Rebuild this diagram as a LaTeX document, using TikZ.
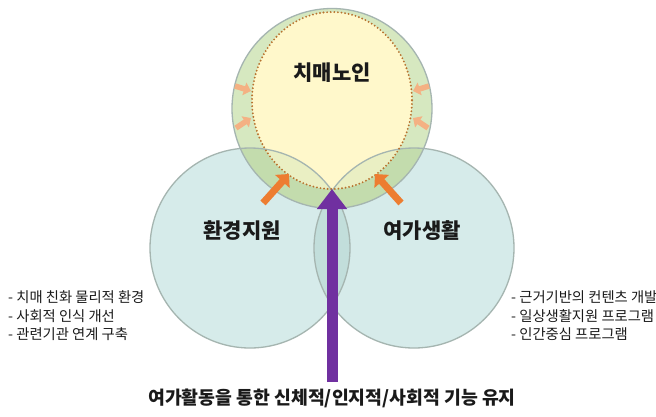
\documentclass[tikz,border=0pt]{standalone}
\usepackage{fontspec}
\newfontfamily\kr{Noto Sans CJK KR}
\usetikzlibrary{arrows.meta}
\definecolor{cyanA}{HTML}{D6EBEA}
\definecolor{cyanB}{HTML}{C2DEDB}
\definecolor{greenA}{HTML}{D6E8C0}
\definecolor{greenB}{HTML}{C3DCAD}
\definecolor{yelA}{HTML}{FFF8CB}
\definecolor{yelB}{HTML}{EAEFC3}
\definecolor{strokeC}{HTML}{A5B5B0}
\definecolor{dotC}{HTML}{B8732F}
\definecolor{orangeA}{HTML}{ED7D31}
\definecolor{peachA}{HTML}{F4B183}
\definecolor{purpleA}{HTML}{7030A0}
\definecolor{textC}{HTML}{1A1A1A}
\tikzset{
  circline/.style={draw=strokeC, line width=1.3},
  dotline/.style={draw=dotC, line width=2.1, line cap=round, dash pattern=on 0pt off 3.6pt},
  bigarrow/.style={draw=orangeA, line width=7, -{Triangle[length=10pt,width=19pt]}},
  smallarrow/.style={draw=peachA, line width=5.5, -{Triangle[length=7pt,width=13pt]}},
  purplearrow/.style={draw=purpleA, line width=11, -{Triangle[length=20pt,width=29pt]}},
  title/.style={font=\kr\bfseries\fontsize{21}{25}\selectfont, text=textC},
  listtext/.style={font=\kr\fontsize{14.3}{18.5}\selectfont, text=textC, align=left, anchor=west, inner sep=0},
  bottomtext/.style={font=\kr\bfseries\fontsize{18.3}{22}\selectfont, text=textC}
}
\begin{document}
\begin{tikzpicture}[x=1pt,y=-1pt]
\useasboundingbox (0,0) rectangle (656,416);
\fill[white] (0,0) rectangle (656,416);
\coordinate (L) at (250,248);
\coordinate (R) at (414,248);
\coordinate (T) at (332,108.5);
\coordinate (E) at (332,100.5);
% lower circles
\fill[cyanA] (L) circle[radius=100];
\fill[cyanA] (R) circle[radius=100];
\begin{scope}
  \clip (L) circle[radius=100];
  \fill[cyanB] (R) circle[radius=100];
\end{scope}
% top circle
\fill[greenA] (T) circle[radius=100];
\begin{scope}
  \clip (T) circle[radius=100];
  \fill[greenB] (L) circle[radius=100];
  \fill[greenB] (R) circle[radius=100];
\end{scope}
\fill[yelA] (E) ellipse[x radius=80, y radius=88.5];
\begin{scope}
  \clip (E) ellipse[x radius=80, y radius=88.5];
  \fill[yelB] (L) circle[radius=100];
  \fill[yelB] (R) circle[radius=100];
\end{scope}
% outlines
\draw[circline] (L) circle[radius=100];
\draw[circline] (R) circle[radius=100];
\draw[circline] (T) circle[radius=100];
\draw[dotline] (E) ellipse[x radius=80, y radius=88.5];
% small peach arrows
\coordinate (sa1) at (235,86);  \coordinate (sb1) at (251,91);
\coordinate (sa2) at (236,128); \coordinate (sb2) at (251,118);
\coordinate (sa3) at (429,86);  \coordinate (sb3) at (413,91);
\coordinate (sa4) at (428,128); \coordinate (sb4) at (413,118);
\draw[smallarrow] (sa1) -- (sb1);
\draw[smallarrow] (sa2) -- (sb2);
\draw[smallarrow] (sa3) -- (sb3);
\draw[smallarrow] (sa4) -- (sb4);
% big orange arrows
\coordinate (ba1) at (263,203); \coordinate (bb1) at (289,174);
\coordinate (ba2) at (401,203); \coordinate (bb2) at (375,174);
\draw[bigarrow] (ba1) -- (bb1);
\draw[bigarrow] (ba2) -- (bb2);
% purple arrow
\coordinate (pa) at (332,382);
\coordinate (pb) at (332,189);
\draw[purplearrow] (pa) -- (pb);
% titles
\node[title] (t1) at (332,73) {치매노인};
\node[title] (t2) at (242,231) {환경지원};
\node[title] (t3) at (422,231) {여가생활};
% lists
\node[listtext] (l1) at (8,316) {- 치매 친화 물리적 환경\\- 사회적 인식 개선\\- 관련기관 연계 구축};
\node[listtext] (l2) at (511,316) {- 근거기반의 컨텐츠 개발\\- 일상생활지원 프로그램\\- 인간중심 프로그램};
% bottom
\node[bottomtext] (bt) at (332,398) {여가활동을 통한 신체적/인지적/사회적 기능 유지};
\end{tikzpicture}
\end{document}
